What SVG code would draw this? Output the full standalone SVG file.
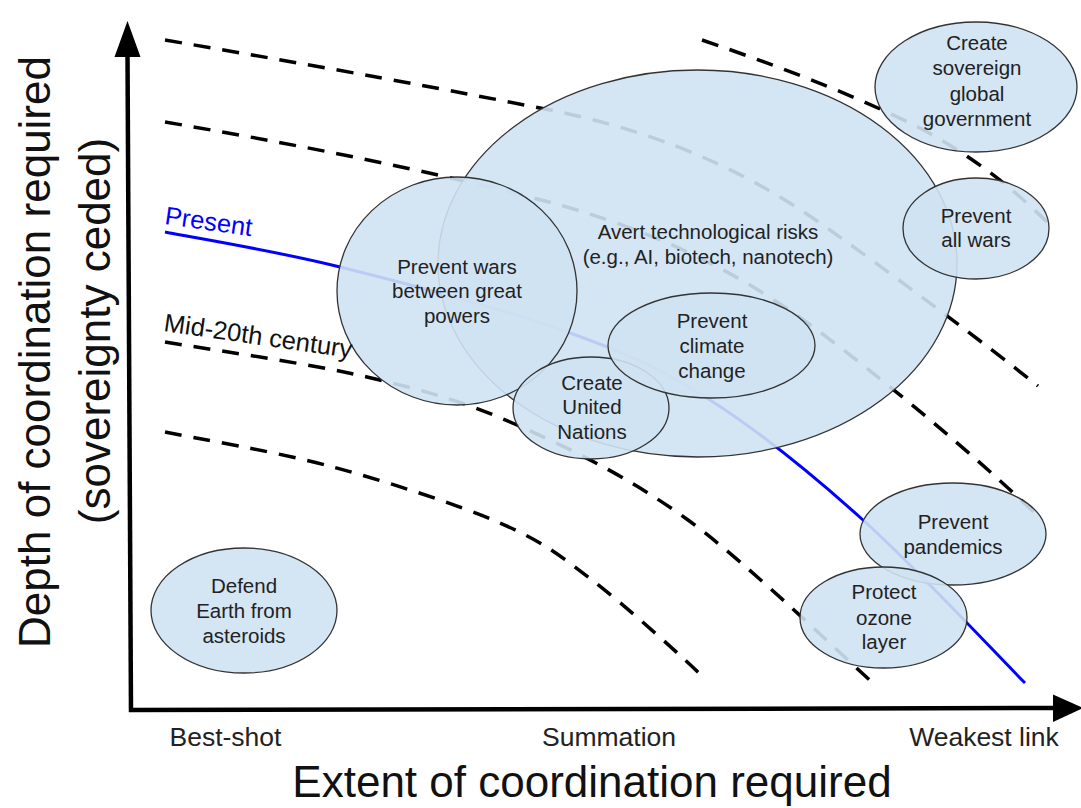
<svg xmlns="http://www.w3.org/2000/svg" width="1081" height="808" viewBox="0 0 1081 808">
<style>
.dash{fill:none;stroke:#000;stroke-width:3.5;stroke-dasharray:17 12}
.blue{fill:none;stroke:#0000ff;stroke-width:3}
.node ellipse{fill:#cfe2f3;fill-opacity:0.9;stroke:#333;stroke-width:1.3}
.node text{font-family:"Liberation Sans",Arial,sans-serif;font-size:20.5px;fill:#222;text-anchor:middle}
.tick{font-family:"Liberation Sans",Arial,sans-serif;font-size:26.5px;fill:#222;text-anchor:middle}
.title{font-family:"Liberation Sans",Arial,sans-serif;font-size:44px;fill:#111;text-anchor:middle}
.curvelbl{font-family:"Liberation Sans",Arial,sans-serif;font-size:25.5px}
</style>
<rect width="1081" height="808" fill="#fff"/>
<g id="axes">
<line x1="131" y1="712" x2="127.5" y2="55" stroke="#000" stroke-width="4.5"/>
<polygon points="127.5,21 114.5,57 140.5,57" fill="#000"/>
<line x1="129" y1="710" x2="1056" y2="708" stroke="#000" stroke-width="4.5"/>
<polygon points="1083,708 1053,694.5 1053,722" fill="#000"/>
</g>
<g id="connectors">
<path class="dash" d="M702,40 C790,70 860,98 920,128 C970,155 1010,185 1050,225"/>
<path class="dash" d="M165,40 C330,68 450,90 560,112 C680,138 760,180 830,230 C900,280 980,340 1038,386"/>
<path class="dash" d="M165,122 C330,150 460,178 560,205 C700,245 780,300 850,355 C930,418 990,470 1040,518"/>
<path class="dash" d="M165,342 C198.7,347.8 308.3,363.2 367,377 C425.7,390.8 463.5,401.2 517,425 C570.5,448.8 628.7,477 688,520 C747.3,563 842.2,655.8 873,683"/>
<path class="dash" d="M165,432 C193,437.8 277.2,451.8 333,467 C388.8,482.2 456.8,504.2 500,523 C543.2,541.8 558.2,554.3 592,580 C625.8,605.7 688,662 703,677"/>
<path class="blue" d="M165,232 C194.2,237.8 272.5,250.2 340,267 C407.5,283.8 508.3,310.8 570,333 C631.7,355.2 661.2,368.8 710,400 C758.8,431.2 810.5,472.8 863,520 C915.5,567.2 998,655.8 1025,683"/>
</g>
<g id="avert" class="node">
<ellipse cx="697.5" cy="263.5" rx="259.5" ry="193.5"/>
<text x="708" y="239">Avert technological risks</text>
<text x="708" y="264">(e.g., AI, biotech, nanotech)</text>
</g>
<g id="great-powers" class="node">
<ellipse cx="457" cy="291" rx="120" ry="114"/>
<text x="457" y="274">Prevent wars</text>
<text x="457" y="298">between great</text>
<text x="457" y="323">powers</text>
</g>
<g id="united-nations" class="node">
<ellipse cx="591" cy="408" rx="78" ry="51"/>
<text x="592" y="390">Create</text>
<text x="592" y="414">United</text>
<text x="592" y="439">Nations</text>
</g>
<g id="climate" class="node">
<ellipse cx="711.5" cy="345.5" rx="103.5" ry="52.5"/>
<text x="712" y="328">Prevent</text>
<text x="712" y="353">climate</text>
<text x="712" y="378">change</text>
</g>
<g id="sovereign" class="node">
<ellipse cx="976" cy="87" rx="101" ry="65"/>
<text x="977" y="50">Create</text>
<text x="977" y="75">sovereign</text>
<text x="977" y="101">global</text>
<text x="977" y="126">government</text>
</g>
<g id="all-wars" class="node">
<ellipse cx="976" cy="228.5" rx="73" ry="50.5"/>
<text x="976" y="223">Prevent</text>
<text x="976" y="247">all wars</text>
</g>
<g id="pandemics" class="node">
<ellipse cx="953" cy="534" rx="93" ry="51"/>
<text x="953" y="529">Prevent</text>
<text x="953" y="554">pandemics</text>
</g>
<g id="ozone" class="node">
<ellipse cx="883.5" cy="617.5" rx="83.5" ry="50.5"/>
<text x="884" y="599">Protect</text>
<text x="884" y="625">ozone</text>
<text x="884" y="649">layer</text>
</g>
<g id="asteroids" class="node">
<ellipse cx="244" cy="610.5" rx="93" ry="62.5"/>
<text x="244" y="593">Defend</text>
<text x="244" y="618">Earth from</text>
<text x="244" y="643">asteroids</text>
</g>
<g id="labels">
<text class="curvelbl" fill="#0000ff" transform="translate(164,224) rotate(8)">Present</text>
<text class="curvelbl" fill="#111" transform="translate(163,331) rotate(8.2)">Mid-20th century</text>
<text class="tick" x="225.5" y="746">Best-shot</text>
<text class="tick" x="609" y="746">Summation</text>
<text class="tick" x="984" y="746">Weakest link</text>
<text class="title" x="592" y="797">Extent of coordination required</text>
<text class="title" transform="translate(50,352) rotate(-90)">Depth of coordination required</text>
<text class="title" transform="translate(110,331) rotate(-90)">(sovereignty ceded)</text>
</g>
</svg>
